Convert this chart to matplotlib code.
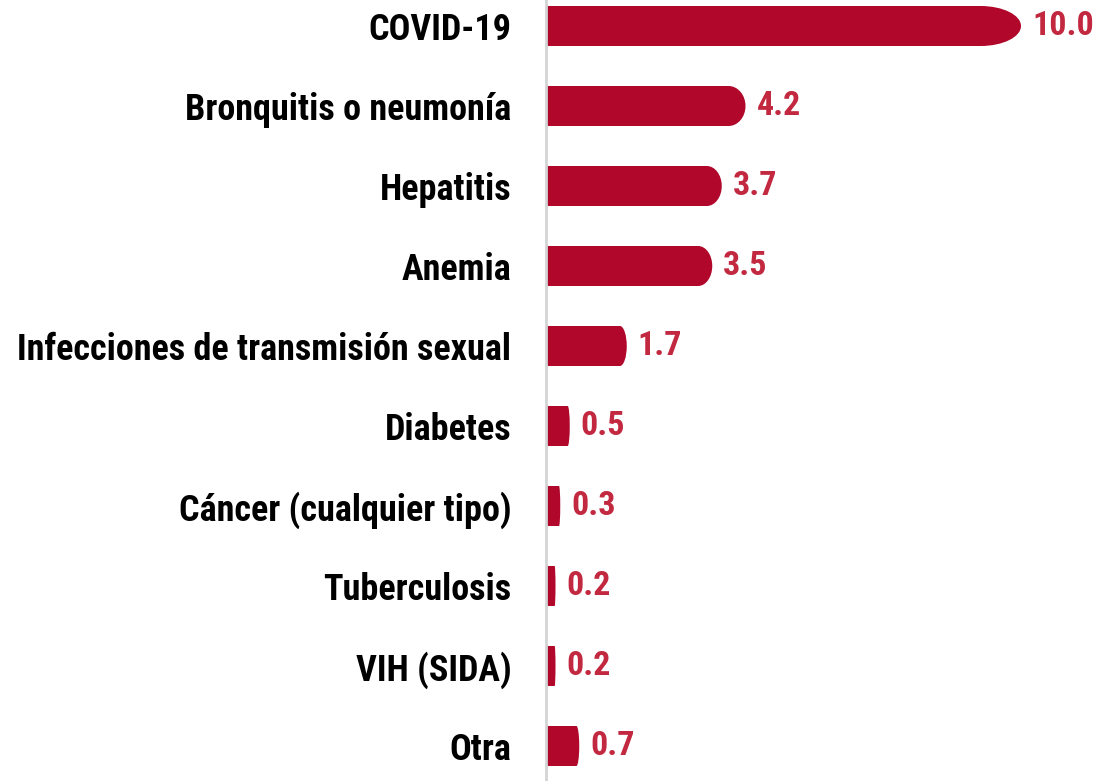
import matplotlib.pyplot as plt
from matplotlib.path import Path
from matplotlib.patches import PathPatch

categories = ["COVID-19", "Bronquitis o neumonía", "Hepatitis", "Anemia",
              "Infecciones de transmisión sexual", "Diabetes",
              "Cáncer (cualquier tipo)", "Tuberculosis", "VIH (SIDA)", "Otra"]
values = [10.0, 4.2, 3.7, 3.5, 1.7, 0.5, 0.3, 0.2, 0.2, 0.7]

bar_color = "#B0072B"
label_color = "#C2283F"
plt.rcParams['font.family'] = ['Roboto Condensed', 'DejaVu Sans']


def rounded_bar(ax, y, w, h, color):
    # square on the left, elliptical cap on the right
    rx = 0.085 * w
    ry = h / 2
    k = 0.5523
    x0, x1 = 0, w
    y0, y1 = y - ry, y + ry
    verts = [(x0, y0), (x1 - rx, y0),
             (x1 - rx + k * rx, y0), (x1, y - k * ry), (x1, y),
             (x1, y + k * ry), (x1 - rx + k * rx, y1), (x1 - rx, y1),
             (x0, y1), (x0, y0)]
    codes = [Path.MOVETO, Path.LINETO,
             Path.CURVE4, Path.CURVE4, Path.CURVE4,
             Path.CURVE4, Path.CURVE4, Path.CURVE4,
             Path.LINETO, Path.CLOSEPOLY]
    ax.add_patch(PathPatch(Path(verts, codes), facecolor=color, edgecolor='none'))


fig = plt.figure(figsize=(10.96, 7.81), dpi=100)
ax = fig.add_axes([546 / 1096, 0, 550 / 1096, 1])

ypos = list(range(len(categories)))
for y, v in zip(ypos, values):
    rounded_bar(ax, y, v, 0.5, bar_color)
    ax.annotate(f"{v:.1f}", (v, y), xytext=(8, 0), textcoords='offset points',
                va='center', ha='left', fontsize=24.5, fontweight='bold',
                color=label_color)

ax.set_xlim(0, 550 / 47.5)
ax.set_ylim(9.4375, -0.325)
ax.set_yticks(ypos)
ax.set_yticklabels(categories, fontsize=26, fontweight='bold')
ax.tick_params(axis='y', length=0, pad=25)
ax.set_xticks([])
for s in ['top', 'right', 'bottom']:
    ax.spines[s].set_visible(False)
ax.spines['left'].set_color('#d4d4d4')
ax.spines['left'].set_linewidth(2)

fig.savefig("out.png", dpi=100)
